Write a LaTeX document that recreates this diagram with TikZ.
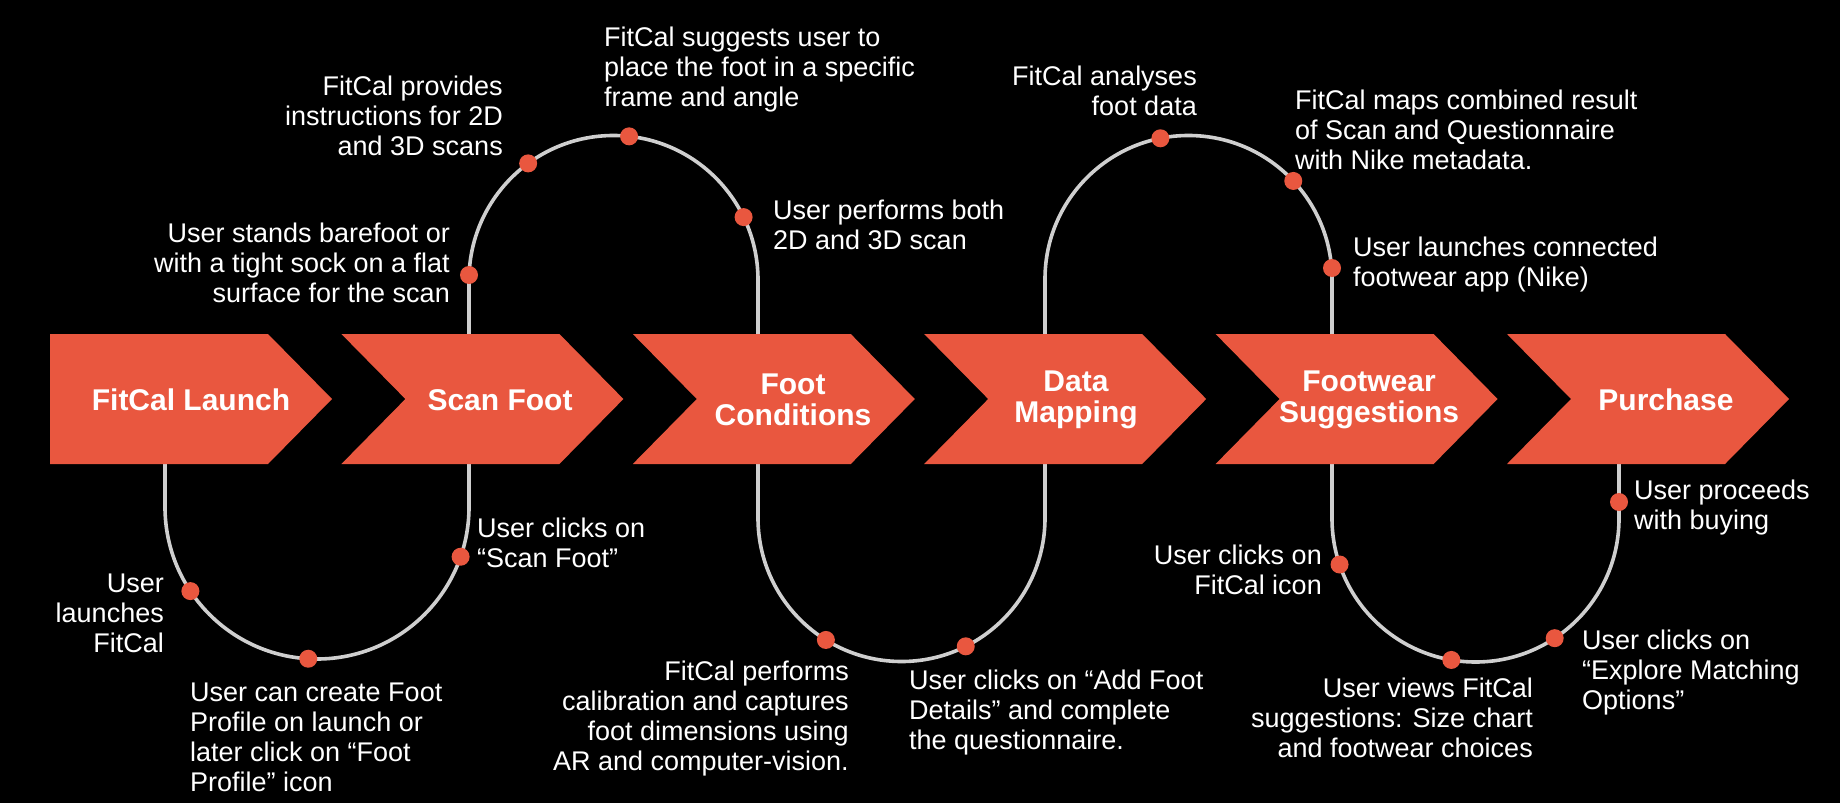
\documentclass[tikz,border=0pt]{standalone}
\usepackage{fontspec}
\setmainfont{Liberation Sans}
\usetikzlibrary{calc}
\definecolor{fitorange}{HTML}{E9573F}
\definecolor{loopgray}{HTML}{CFCFCF}
\begin{document}
\begin{tikzpicture}[x=1pt,y=1pt,yscale=-1,
  chevfill/.style={fill=fitorange},
  loopline/.style={draw=loopgray,line width=3.6pt},
  dot/.style={circle,fill=fitorange,minimum size=18pt,inner sep=0pt},
  desc/.style={text=white,font=\fontsize{27}{30}\selectfont,inner sep=0pt},
  stagelabel/.style={text=white,font=\fontsize{30}{31}\selectfont\bfseries,align=center,inner sep=0pt}]
\fill[black] (0,0) rectangle (1840,803);
\useasboundingbox (0,0) rectangle (1840,803);

% loop centres
\coordinate (lc1) at (317,507);
\coordinate (lc2) at (613.5,280);
\coordinate (lc3) at (901.5,518);
\coordinate (lc4) at (1188.5,279);
\coordinate (lc5) at (1475.5,518.5);
\coordinate (pstart) at (165,464);
\coordinate (pend) at (1619,464);

% the snake line
\draw[loopline] (pstart) -- (165,507) arc[start angle=180,end angle=0,radius=152]
  -- (469,280) arc[start angle=180,end angle=360,radius=144.5]
  -- (758,518) arc[start angle=180,end angle=0,radius=143.5]
  -- (1045,279) arc[start angle=180,end angle=360,radius=143.5]
  -- (1332,518.5) arc[start angle=180,end angle=0,radius=143.5]
  -- (pend);

% chevrons
\path[chevfill] (50,334) -- ++(218,0) -- ++(64,65) -- ++(-64,65) -- ++(-218,0) -- cycle;
\foreach \L in {341.4,632.8,924.2,1215.6,1507}{
  \path[chevfill] (\L,334) -- ++(218,0) -- ++(64,65) -- ++(-64,65) -- ++(-218,0) -- ++(64,-65) -- cycle;
}

% stage labels
\node[stagelabel] (s1) at (191,400) {FitCal Launch};
\node[stagelabel] (s2) at (500,400) {Scan Foot};
\node[stagelabel] (s3) at (793,400) {Foot\\Conditions};
\node[stagelabel] (s4) at (1076,400) {Data\\Mapping};
\node[stagelabel] (s5) at (1369,400) {Footwear\\Suggestions};
\node[stagelabel] (s6) at (1666,400) {Purchase};

% dots
\node[dot] (d1) at ($(lc1)+(146.4:152)$) {};
\node[dot] (d2) at ($(lc1)+(93.3:152)$) {};
\node[dot] (d3) at ($(lc1)+(19.1:152)$) {};
\node[dot] (d4) at (469,275) {};
\node[dot] (d5) at ($(lc2)+(233.8:144.5)$) {};
\node[dot] (d6) at ($(lc2)+(276.2:144.5)$) {};
\node[dot] (d7) at ($(lc2)+(334.2:144.5)$) {};
\node[dot] (d8) at ($(lc3)+(121.8:143.5)$) {};
\node[dot] (d9) at ($(lc3)+(63.4:143.5)$) {};
\node[dot] (d10) at ($(lc4)+(258.7:143.5)$) {};
\node[dot] (d11) at ($(lc4)+(316.9:143.5)$) {};
\node[dot] (d12) at (1332,268) {};
\node[dot] (d13) at ($(lc5)+(161.3:143.5)$) {};
\node[dot] (d14) at ($(lc5)+(99.7:143.5)$) {};
\node[dot] (d15) at ($(lc5)+(56.5:143.5)$) {};
\node[dot] (d16) at (1619,502) {};

% descriptions
\node[desc,anchor=east,align=right] (t1) at (164,613) {User\\launches\\FitCal};
\node[desc,anchor=west,align=left] (t2) at (190,737) {User can create Foot\\Profile on launch or\\later click on “Foot\\Profile” icon};
\node[desc,anchor=west,align=left] (t3) at (477,543) {User clicks on\\“Scan Foot”};
\node[desc,anchor=east,align=right] (t4) at (450,263) {User stands barefoot or\\with a tight sock on a flat\\surface for the scan};
\node[desc,anchor=east,align=right] (t5) at (503,116) {FitCal provides\\instructions for 2D\\and 3D scans};
\node[desc,anchor=west,align=left] (t6) at (604,70) {FitCal suggests user to\\place the foot in a specific\\frame and angle};
\node[desc,anchor=west,align=left] (t7) at (773,225) {User performs both\\2D and 3D scan};
\node[desc,anchor=east,align=right] (t8) at (849,719) {FitCal performs\\calibration and captures\\foot dimensions using\\AR and computer-vision.};
\node[desc,anchor=west,align=left] (t9) at (909,713) {User clicks on “Add Foot\\Details” and complete\\the questionnaire.};
\node[desc,anchor=east,align=right] (t10) at (1197,91) {FitCal analyses\\foot data};
\node[desc,anchor=west,align=left] (t11) at (1295,130) {FitCal maps combined result\\of Scan and Questionnaire\\with Nike metadata.};
\node[desc,anchor=west,align=left] (t12) at (1353,265) {User launches connected\\footwear app (Nike)};
\node[desc,anchor=east,align=right] (t13) at (1322,570) {User clicks on\\FitCal icon};
\node[desc,anchor=east,align=right] (t14) at (1533,718) {User views FitCal\\suggestions: Size chart\\and footwear choices};
\node[desc,anchor=west,align=left] (t15) at (1582,673) {User clicks on\\“Explore Matching\\Options”};
\node[desc,anchor=west,align=left] (t16) at (1634,508) {User proceeds\\with buying};
\end{tikzpicture}
\end{document}
